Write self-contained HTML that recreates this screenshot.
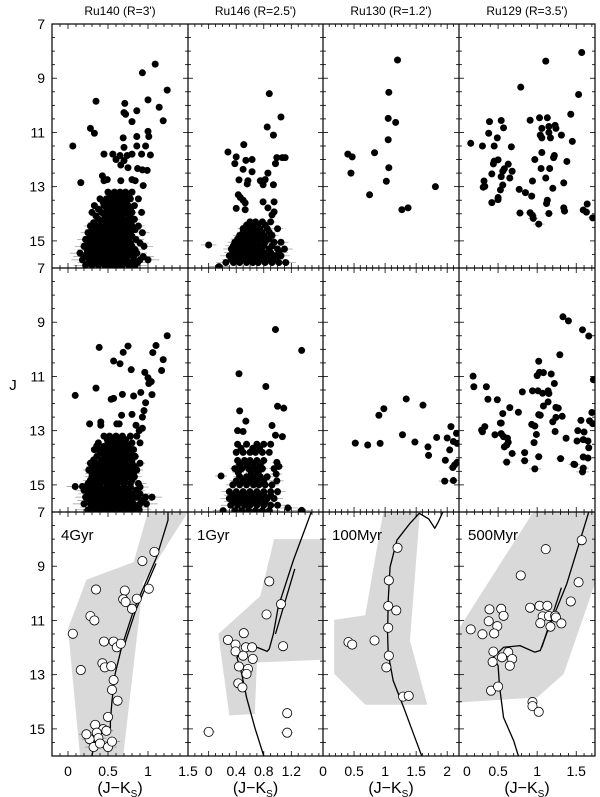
<!DOCTYPE html>
<html><head><meta charset="utf-8"><style>
body{margin:0;background:#fff;}
svg{display:block;font-family:"Liberation Sans",sans-serif;}
</style></head><body>
<svg id="chart" width="600" height="797" viewBox="0 0 600 797" xmlns="http://www.w3.org/2000/svg"></svg>
<script>
// ---------- data ----------
const panelTitles = ["Ru140 (R=3')", "Ru146 (R=2.5')", "Ru130 (R=1.2')", "Ru129 (R=3.5')"];
const ageLabels = ["4Gyr", "1Gyr", "100Myr", "500Myr"];
const yTickLabels = [7, 9, 11, 13, 15];
const xTicks0 = [0, 0.5, 1, 1.5];
const xTicks1 = [0, 0.4, 0.8, 1.2];
const xTicks2 = [0, 0.5, 1, 1.5, 2];
const xTicks3 = [0.5, 1, 1.5];

const ru140Top = [[1.09,8.48],[0.93,8.8],[1.24,9.44],[0.35,9.85],[0.71,9.93],[1.0,9.8],[1.14,10.07],[0.7,10.27],[0.72,10.33],[0.86,10.2],[0.8,10.6],[1.19,10.57],[0.28,10.85],[0.33,11.03],[1.0,10.96],[1.01,11.15],[0.06,11.5],[0.69,11.2],[0.7,11.55],[0.86,11.15],[0.86,11.5],[0.97,11.5],[0.45,11.8],[0.56,11.8],[0.65,11.85],[0.6,12.0],[0.7,12.04],[0.66,12.2],[0.74,11.85],[0.8,11.8],[0.92,11.8],[1.03,11.83],[0.75,12.3],[0.87,12.33],[0.93,12.38],[0.99,12.4],[0.16,12.85],[0.43,12.6],[0.49,12.74],[0.45,12.78],[0.8,12.74],[0.84,12.78],[0.94,12.96],[0.66,12.78]];
const ru140TopDense = [[13.2,[0.5,0.58,0.65,0.72,0.8]],[13.45,[0.4,0.48,0.55,0.62,0.7,0.78,0.88]],[13.7,[0.33,0.45,0.52,0.6,0.67,0.75,0.83]],[13.95,[0.3,0.42,0.5,0.57,0.64,0.72,0.8,0.92]],[14.2,[0.38,0.46,0.54,0.6,0.68,0.75,0.83]],[14.45,[0.28,0.35,0.43,0.5,0.58,0.65,0.72,0.8,0.88]],[14.7,[0.25,0.33,0.4,0.48,0.55,0.62,0.7,0.78,0.93]],[14.95,[0.22,0.3,0.38,0.45,0.52,0.6,0.67,0.75,0.85]],[15.2,[0.2,0.28,0.35,0.42,0.5,0.57,0.64,0.72,0.8,0.95]],[15.45,[0.15,0.24,0.32,0.4,0.47,0.55,0.62,0.7,0.78,0.86]],[15.7,[0.18,0.27,0.35,0.43,0.5,0.58,0.65,0.73,0.82,0.9,1.0]],[15.9,[0.22,0.3,0.38,0.46,0.54,0.61,0.68,0.76,0.84]]];
const ru140TopFill = [[13.33,[0.54,0.62,0.69,0.76]],[13.58,[0.44,0.52,0.59,0.66,0.73]],[13.83,[0.38,0.49,0.56,0.63,0.7,0.78]],[14.08,[0.35,0.46,0.53,0.61,0.68,0.77]],[14.33,[0.32,0.42,0.5,0.57,0.64,0.71,0.79]],[14.58,[0.3,0.39,0.47,0.54,0.61,0.68,0.76,0.84]],[14.83,[0.28,0.36,0.44,0.51,0.58,0.65,0.72,0.8]],[15.08,[0.26,0.34,0.41,0.48,0.56,0.63,0.7,0.78,0.9]],[15.33,[0.24,0.31,0.38,0.46,0.53,0.6,0.68,0.76,0.84]],[15.58,[0.2,0.28,0.36,0.44,0.51,0.59,0.66,0.74,0.82,0.94]],[15.8,[0.26,0.33,0.41,0.48,0.55,0.62,0.7,0.78,0.87]]];
const ru146Top = [[0.88,9.57],[1.05,10.43],[0.85,10.8],[0.94,11.1],[0.51,11.45],[0.28,11.72],[0.4,11.9],[0.38,12.15],[0.54,12.03],[0.63,12.0],[0.5,12.36],[0.63,12.45],[0.99,11.93],[1.07,11.93],[1.11,11.93],[0.97,12.15],[0.86,12.5],[0.44,12.75],[0.57,12.78],[0.56,12.9],[0.75,12.78],[0.82,12.74],[0.79,12.93],[0.94,12.93],[0.43,13.3],[0.46,13.4],[0.5,13.5],[0.53,13.6],[0.4,13.8],[0.53,13.85],[0.0,15.15],[0.79,13.56],[0.95,13.56],[0.86,13.78],[0.95,13.93],[0.92,14.04],[0.15,15.95]];
const ru146TopDense = [[14.3,[0.6,0.68,0.78,0.9]],[14.55,[0.5,0.58,0.66,0.74,0.85,1.0]],[14.8,[0.45,0.55,0.63,0.72,0.8,0.92]],[15.05,[0.38,0.47,0.56,0.64,0.72,0.82,0.95,1.05]],[15.3,[0.33,0.42,0.5,0.6,0.68,0.76,0.88,1.0,1.1]],[15.55,[0.3,0.4,0.48,0.56,0.65,0.74,0.84,0.95,1.05]],[15.8,[0.25,0.36,0.45,0.55,0.64,0.72,0.82,0.92,1.02,1.12]]];
const ru146TopFill = [[14.42,[0.55,0.63,0.71,0.82]],[14.68,[0.5,0.6,0.68,0.77,0.88]],[14.93,[0.42,0.51,0.6,0.68,0.77,0.87]],[15.18,[0.36,0.45,0.54,0.63,0.72,0.8,0.92]],[15.43,[0.35,0.45,0.53,0.62,0.71,0.8,0.9,1.02]],[15.68,[0.33,0.43,0.52,0.6,0.69,0.78,0.88,0.98]]];
const ru130Top = [[1.2,8.33],[1.06,9.52],[1.05,10.48],[1.17,10.63],[1.05,11.27],[0.4,11.8],[0.47,11.9],[0.83,11.75],[0.45,12.5],[1.06,12.3],[1.02,12.8],[1.81,13.0],[0.75,13.3],[1.27,13.85],[1.37,13.78]];
const ru129Top = [[1.57,8.05],[1.11,8.37],[0.79,9.33],[1.53,9.6],[1.43,10.33],[0.39,10.6],[0.54,10.56],[0.91,10.55],[1.03,10.46],[1.13,10.46],[0.57,10.83],[0.38,11.03],[0.49,11.2],[0.45,11.5],[0.15,11.4],[0.3,11.5],[0.67,11.53],[1.06,10.85],[1.15,10.78],[1.23,10.74],[1.24,10.85],[1.15,11.0],[1.04,11.1],[1.06,11.2],[1.17,11.2],[1.31,11.1],[1.45,11.33],[1.06,11.74],[1.22,11.85],[1.21,11.93],[0.97,12.0],[1.38,12.07],[0.45,12.06],[0.5,12.01],[0.44,12.16],[0.63,12.17],[0.58,12.34],[0.68,12.43],[0.56,12.43],[0.42,12.53],[0.54,12.63],[0.65,12.68],[0.32,12.79],[0.33,12.99],[0.31,13.02],[0.56,12.94],[0.53,13.12],[0.5,13.4],[0.5,13.48],[0.42,13.59],[1.05,12.33],[1.16,12.33],[1.11,12.68],[0.94,12.79],[1.2,13.06],[1.34,12.86],[0.77,13.1],[0.85,13.22],[0.93,13.35],[1.13,13.5],[1.12,13.62],[1.34,13.78],[1.35,13.9],[0.78,13.97],[0.91,13.96],[0.94,14.06],[0.95,14.17],[1.02,14.38],[1.15,13.99],[1.64,13.64],[1.59,13.86],[1.63,13.94],[1.71,14.15]];

const ru140Mid = [[1.24,9.5],[1.1,9.86],[1.06,10.12],[1.19,10.38],[1.17,10.78],[0.39,9.93],[0.75,9.88],[0.69,10.11],[0.57,10.43],[0.65,10.53],[0.79,10.75],[0.96,10.85],[1.0,11.05],[1.04,11.19],[1.01,11.26],[0.35,11.43],[0.09,11.7],[0.91,11.59],[1.05,11.67],[0.68,11.66],[0.82,11.72],[0.57,11.81],[0.54,11.84],[0.97,11.97],[0.95,12.26],[0.93,12.5],[0.67,12.43],[0.8,12.4],[0.27,12.75],[0.41,12.68],[0.41,12.8],[0.61,12.75],[0.64,12.75],[0.85,12.8],[0.93,12.91],[0.89,13.0],[0.09,15.06],[0.18,15.06],[0.36,13.56],[0.39,13.7]];
const ru140MidDense = [[13.2,[0.45,0.52,0.6,0.68,0.78,0.86]],[13.45,[0.38,0.5,0.57,0.64,0.72,0.8,0.9]],[13.7,[0.33,0.42,0.5,0.58,0.66,0.74,0.82]],[13.95,[0.36,0.46,0.54,0.61,0.68,0.76,0.84]],[14.2,[0.28,0.35,0.43,0.5,0.58,0.65,0.72,0.8,0.9]],[14.45,[0.26,0.33,0.4,0.48,0.56,0.63,0.7,0.78,0.86]],[14.7,[0.3,0.38,0.45,0.53,0.6,0.67,0.75,0.83]],[14.95,[0.25,0.33,0.4,0.48,0.55,0.62,0.7,0.78,0.88]],[15.2,[0.2,0.28,0.36,0.44,0.52,0.6,0.68,0.75,0.85]],[15.45,[0.22,0.3,0.38,0.46,0.54,0.62,0.7,0.78,0.86,0.97,1.05]],[15.7,[0.2,0.28,0.36,0.44,0.52,0.6,0.67,0.74,0.82,0.9,0.98]],[15.92,[0.25,0.33,0.41,0.49,0.57,0.65,0.73,0.81,0.89]]];
const ru140MidFill = [[13.33,[0.49,0.56,0.64,0.72]],[13.58,[0.45,0.53,0.61,0.69,0.77]],[13.83,[0.4,0.48,0.56,0.63,0.71,0.79]],[14.08,[0.32,0.42,0.5,0.57,0.65,0.72,0.8]],[14.33,[0.3,0.38,0.46,0.54,0.61,0.68,0.76,0.84]],[14.58,[0.3,0.36,0.44,0.52,0.59,0.66,0.74,0.82]],[14.83,[0.28,0.35,0.42,0.5,0.57,0.64,0.71,0.8]],[15.08,[0.24,0.32,0.4,0.48,0.55,0.62,0.7,0.78,0.9]],[15.33,[0.25,0.33,0.41,0.49,0.57,0.64,0.72,0.8,0.9]],[15.58,[0.25,0.33,0.41,0.49,0.57,0.64,0.72,0.8,0.92]],[15.82,[0.3,0.38,0.46,0.54,0.62,0.7,0.78,0.86]]];
const ru146Mid = [[0.97,9.27],[1.35,10.04],[1.35,15.94],[0.44,10.9],[0.83,11.37],[1.0,12.1],[1.09,12.17],[0.45,12.27],[0.54,12.65],[0.92,12.81],[0.42,13.0],[0.5,13.03],[0.97,13.17],[1.07,13.22],[0.18,14.67],[0.21,15.95],[1.15,15.85],[0.99,14.17],[1.02,14.32],[0.98,14.6],[0.99,14.85]];
const ru146MidDense = [[13.5,[0.42,0.55,0.7,0.8,0.9]],[13.8,[0.4,0.5,0.6,0.68,0.78,0.88]],[14.1,[0.42,0.52,0.6,0.7,0.8]],[14.4,[0.38,0.48,0.58,0.68,0.78,0.95]],[14.7,[0.45,0.55,0.65,0.75,0.85]],[15.0,[0.35,0.45,0.55,0.65,0.73,0.82,0.92]],[15.25,[0.3,0.4,0.5,0.6,0.7,0.8,0.9,1.0]],[15.5,[0.3,0.4,0.5,0.58,0.66,0.75,0.85,0.95]],[15.75,[0.32,0.42,0.52,0.6,0.7,0.8,0.9,1.0]],[15.95,[0.38,0.48,0.58,0.68,0.78,0.88]]];
const ru146MidFill = [[13.65,[0.47,0.64,0.74]],[14.25,[0.45,0.55,0.65,0.75]],[14.55,[0.43,0.62,0.72]],[14.85,[0.4,0.5,0.6,0.7,0.8]],[15.38,[0.35,0.45,0.55,0.63,0.72,0.8,0.9]],[15.62,[0.36,0.46,0.55,0.64,0.72,0.82]]];
const ru130Mid = [[1.34,11.83],[0.98,12.19],[0.9,12.43],[1.61,12.06],[1.28,13.15],[1.48,13.42],[0.52,13.46],[0.72,13.53],[0.92,13.47],[1.83,13.25],[1.69,13.6],[1.7,13.91],[2.06,12.85],[2.0,13.27],[2.15,13.1],[2.1,13.4],[2.16,13.47],[2.04,13.71],[1.97,14.09],[2.16,14.17],[2.12,14.26],[2.09,14.36],[1.96,14.86],[2.1,14.84]];
const ru129Mid = [[1.33,8.8],[1.4,8.95],[1.58,9.28],[1.66,9.51],[1.29,10.2],[1.72,11.12],[1.02,10.44],[1.0,10.97],[1.03,10.85],[1.08,10.86],[1.18,10.91],[1.22,11.26],[0.18,10.99],[0.19,11.38],[0.35,11.38],[0.81,11.57],[0.94,11.53],[1.01,11.53],[1.07,11.62],[1.14,11.53],[1.15,11.63],[0.37,11.84],[0.49,11.86],[1.14,11.94],[1.08,12.09],[1.24,12.14],[1.27,12.17],[0.65,12.15],[0.76,12.32],[0.56,12.37],[1.02,12.41],[1.04,12.43],[1.32,12.47],[1.24,12.51],[1.2,12.67],[1.7,12.33],[1.56,12.62],[1.67,12.64],[1.71,12.74],[0.54,12.72],[0.93,12.77],[0.97,12.83],[0.99,13.14],[1.23,13.03],[1.52,13.0],[1.6,13.05],[1.37,13.28],[1.51,13.38],[1.59,13.33],[1.65,13.38],[1.66,13.63],[1.59,13.97],[1.65,14.01],[1.48,14.25],[1.59,14.38],[1.58,14.52],[0.29,12.98],[0.33,12.85],[0.3,13.04],[0.46,13.15],[0.54,13.11],[0.57,13.22],[0.53,12.72],[0.62,13.28],[0.63,13.43],[0.58,13.6],[0.61,13.53],[0.68,13.84],[0.61,14.16],[0.84,13.81],[0.84,14.11],[1.02,13.96],[0.97,14.41],[0.96,13.44],[1.3,14.03],[1.47,14.24]];

const mem140 = [[1.08,8.47],[0.93,8.81],[0.35,9.86],[0.71,9.9],[1.01,9.83],[0.69,10.22],[0.72,10.32],[0.86,10.2],[0.8,10.57],[0.28,10.84],[0.33,11.0],[0.06,11.49],[0.45,11.78],[0.57,11.78],[0.61,11.99],[0.66,11.86],[0.16,12.83],[0.43,12.58],[0.46,12.73],[0.54,12.69],[0.57,13.2],[0.55,13.56],[0.62,13.96],[0.5,14.56],[0.34,14.85],[0.44,15.01],[0.36,15.14],[0.48,15.07],[0.38,15.34],[0.27,15.38],[0.32,15.67],[0.4,15.54],[0.5,15.67],[0.55,15.47],[0.23,15.2]];
const mem146 = [[0.88,9.56],[0.84,10.78],[1.05,10.4],[1.08,11.95],[0.51,11.47],[0.28,11.72],[0.39,11.89],[0.39,12.14],[0.54,11.99],[0.63,11.99],[0.5,12.3],[0.64,12.42],[0.44,12.7],[0.57,12.79],[0.55,12.97],[0.43,13.32],[0.49,13.47],[1.14,14.42],[1.14,15.14],[0.0,15.11]];
const mem130 = [[1.2,8.32],[1.06,9.52],[1.05,10.47],[1.18,10.63],[1.05,11.27],[0.41,11.8],[0.47,11.89],[0.83,11.74],[1.06,12.3],[1.02,12.73],[1.29,13.81],[1.38,13.78]];
const mem129 = [[1.57,8.04],[1.11,8.37],[0.79,9.34],[1.53,9.59],[1.43,10.3],[0.39,10.59],[0.54,10.57],[0.91,10.53],[1.03,10.46],[1.13,10.46],[0.57,10.83],[0.38,11.03],[0.49,11.21],[0.45,11.48],[0.15,11.33],[0.3,11.51],[1.07,10.85],[1.15,10.84],[1.23,10.83],[1.24,10.89],[1.04,11.1],[1.17,11.23],[1.31,11.11],[0.44,12.15],[0.43,12.53],[0.63,12.17],[0.68,12.42],[0.65,12.67],[0.55,12.36],[0.41,13.59],[0.5,13.44],[0.94,14.01],[0.94,14.16],[1.02,14.37]];
const region140 = [[1.0,7],[1.5,7],[0.94,9.6],[0.69,16],[0.15,16],[0.0,11.3],[0.23,9.5],[0.82,8.85]];
const region146 = [[0.95,8.0],[1.66,8.0],[1.66,12.45],[0.7,12.55],[0.67,14.45],[0.3,14.5],[0.14,11.5],[0.75,10.1]];
const region130 = [[0.97,7],[1.56,7],[1.4,11.74],[1.68,14.11],[0.68,14.11],[0.18,12.97],[0.18,10.98],[0.68,10.81]];
const region129 = [[0.01,11.25],[0.95,7],[1.74,7],[1.74,9.64],[1.34,12.97],[1.0,13.84],[0.01,14.02]];
const iso4Gyr = [[1.25,7],[1.25,7.3],[1.11,8.65],[0.82,10.63],[0.67,11.99],[0.59,12.96],[0.55,13.96],[0.53,14.7],[0.53,14.95],[0.36,15.07],[0.3,16]];
const iso4GyrB = [[1.1,8.9],[0.85,10.6],[0.7,11.95]];
const iso1Gyr = [[1.49,7],[1.23,8.78],[1.01,10.5],[0.94,11.49],[0.88,12.05],[0.85,12.14],[0.7,11.99],[0.58,11.99],[0.46,12.21],[0.41,12.36],[0.48,12.97],[0.55,13.84],[0.67,14.95],[0.8,16]];
const iso1GyrB = [[1.25,9.1],[0.97,11.5]];
const iso100Myr = [[1.93,7],[1.85,7.4],[1.8,7.6],[1.7,7.25],[1.55,7.05],[1.4,7.42],[1.19,8.04],[1.08,9.03],[1.05,10.26],[1.04,11.49],[1.05,12.23],[1.13,13.22],[1.3,14.21],[1.46,15.2],[1.59,16]];
const iso500Myr = [[1.66,7],[1.38,9.64],[1.12,11.49],[1.04,12.11],[0.97,12.17],[0.78,11.93],[0.57,11.99],[0.44,12.36],[0.5,12.67],[0.52,13.47],[0.57,14.58],[0.7,15.44],[0.76,16]];
const iso500MyrB = [[1.31,9.79],[1.06,11.99]];

// ---------- layout ----------
const cols = [{x0:52,x1:188,c0:-0.2,c1:1.5,ticks:xTicks0,minor:0.1},{x0:188,x1:323,c0:-0.3,c1:1.66,ticks:xTicks1,minor:0.1},{x0:323,x1:459,c0:0,c1:2.19,ticks:xTicks2,minor:0.1},{x0:459,x1:595,c0:0,c1:1.74,ticks:xTicks3,minor:0.1}];
const rowsTop = [24,268,512], rowH = 244, J0 = 7, J1 = 16;
const NS = "http://www.w3.org/2000/svg";
const svg = document.getElementById('chart');
function X(ci,c){const k=cols[ci];return k.x0+(c-k.c0)/(k.c1-k.c0)*(k.x1-k.x0);}
function Y(ri,J){return rowsTop[ri]+(J-J0)/(J1-J0)*rowH;}
function mk(tag,attrs,parent){const e=document.createElementNS(NS,tag);for(const a in attrs)e.setAttribute(a,attrs[a]);(parent||svg).appendChild(e);return e;}
const defs = mk('defs',{});
function errW(J){return J>13.3?0.02+0.05*(J-13.3):0;}

function panelGroup(ci,ri,name){
  const cp=mk('clipPath',{id:'cp'+ci+ri},defs);
  mk('rect',{x:cols[ci].x0,y:rowsTop[ri],width:cols[ci].x1-cols[ci].x0,height:rowH},cp);
  const g=mk('g',{'clip-path':'url(#cp'+ci+ri+')'});
  
  
  return g;
}
function expand(list,dense,fill){const out=list.slice();[dense,fill].forEach(d=>{if(d)d.forEach(r=>r[1].forEach(c=>out.push([c,r[0]])));});return out;}
function drawFilled(ci,ri,pts,name){
  const g=panelGroup(ci,ri,name);
  pts.forEach(p=>{const w=errW(p[1]);if(w>0){const l=mk('line',{x1:X(ci,p[0]-w),x2:X(ci,p[0]+w),y1:Y(ri,p[1]),y2:Y(ri,p[1]),stroke:'#999','stroke-width':0.7},g);
    
    }});
  pts.forEach(p=>{const c=mk('circle',{cx:X(ci,p[0]),cy:Y(ri,p[1]),r:3.5,fill:'#000'},g);
    
    });
}
function drawBottom(ci,region,isos,mem,name){
  const ri=2,g=panelGroup(ci,ri,name);
  const poly=mk('polygon',{points:region.map(p=>X(ci,p[0])+','+Y(ri,p[1])).join(' '),fill:'#d9d9d9'},g);
  
  
  isos.forEach(iso=>{const pl=mk('polyline',{points:iso.map(p=>X(ci,p[0])+','+Y(ri,p[1])).join(' '),fill:'none',stroke:'#000','stroke-width':1.3,'stroke-linejoin':'round'},g);
    
    });
  mem.forEach(p=>{const w=p[1]>13.8?errW(p[1])*0.8:0;if(w>0){const l=mk('line',{x1:X(ci,p[0]-w),x2:X(ci,p[0]+w),y1:Y(ri,p[1]),y2:Y(ri,p[1]),stroke:'#888','stroke-width':0.7},g);
    
    }});
  mem.forEach(p=>{const c=mk('circle',{cx:X(ci,p[0]),cy:Y(ri,p[1]),r:4.6,fill:'#fff',stroke:'#000','stroke-width':0.8},g);
    
    });
}

drawFilled(0,0,expand(ru140Top,ru140TopDense,ru140TopFill),'ru140-field-panel');
drawFilled(1,0,expand(ru146Top,ru146TopDense,ru146TopFill),'ru146-field-panel');
drawFilled(2,0,ru130Top,'ru130-field-panel');
drawFilled(3,0,ru129Top,'ru129-field-panel');
drawFilled(0,1,expand(ru140Mid,ru140MidDense,ru140MidFill),'ru140-decontam-panel');
drawFilled(1,1,expand(ru146Mid,ru146MidDense,ru146MidFill),'ru146-decontam-panel');
drawFilled(2,1,ru130Mid,'ru130-decontam-panel');
drawFilled(3,1,ru129Mid,'ru129-decontam-panel');
drawBottom(0,region140,[iso4Gyr,iso4GyrB],mem140,'ru140-isochrone-panel');
drawBottom(1,region146,[iso1Gyr,iso1GyrB],mem146,'ru146-isochrone-panel');
drawBottom(2,region130,[iso100Myr],mem130,'ru130-isochrone-panel');
drawBottom(3,region129,[iso500Myr,iso500MyrB],mem129,'ru129-isochrone-panel');

const tg=mk('g',{stroke:'#000','stroke-width':0.8});


for(let ci=0;ci<4;ci++)for(let ri=0;ri<3;ri++){
  const k=cols[ci],top=rowsTop[ri],bot=top+rowH;
  for(let J=7;J<=16.001;J+=0.5){const y=Y(ri,J),L=(Math.abs(J%2-1)<0.01)?5:3;
    mk('line',{x1:k.x0,x2:k.x0+L,y1:y,y2:y},tg);mk('line',{x1:k.x1,x2:k.x1-L,y1:y,y2:y},tg);}
  const start=Math.ceil(k.c0/k.minor)*k.minor;
  for(let c=start;c<=k.c1+1e-6;c+=k.minor){const x=X(ci,c),isM=k.ticks.some(t=>Math.abs(t-c)<1e-6)||Math.abs(c)<1e-6,L=isM?5:3;
    mk('line',{x1:x,x2:x,y1:top,y2:top+L},tg);mk('line',{x1:x,x2:x,y1:bot,y2:bot-L},tg);}
}
const fg=mk('g',{stroke:'#000','stroke-width':1.2,fill:'none'});


mk('rect',{x:52,y:24,width:543,height:732},fg);
[188,323,459].forEach(x=>mk('line',{x1:x,x2:x,y1:24,y2:756},fg));
[268,512].forEach(y=>mk('line',{x1:52,x2:595,y1:y,y2:y},fg));

function txt(s,x,y,attrs,name){const t=mk('text',Object.assign({x:x,y:y,fill:'#000'},attrs));t.textContent=s;
  
  return t;}
panelTitles.forEach((s,i)=>txt(s,(cols[i].x0+cols[i].x1)/2,15,{'font-size':12,'text-anchor':'middle'},'panel-title'));
for(let ri=0;ri<3;ri++)yTickLabels.forEach(v=>txt(String(v),45,Y(ri,v)+5,{'font-size':14,'text-anchor':'end'},'y-tick-label'));
txt('J',13,390,{'font-size':15,'text-anchor':'middle'},'y-axis-title');
ageLabels.forEach((s,i)=>txt(s,cols[i].x0+9,540,{'font-size':15},'age-label'));
const allX=[xTicks0,xTicks1,xTicks2,xTicks3];
allX.forEach((arr,ci)=>arr.forEach(v=>{let x=X(ci,v);txt(String(v),x,776,{'font-size':14,'text-anchor':'middle'},'x-tick-label');}));
txt('0',X(3,0)+4,776,{'font-size':14,'text-anchor':'start'},'x-tick-label');
for(let ci=0;ci<4;ci++){
  const t=mk('text',{x:(cols[ci].x0+cols[ci].x1)/2,y:793,'font-size':16,'text-anchor':'middle',fill:'#000'});
  
  
  t.innerHTML='(J\u2212K<tspan font-size="10" dy="4">S</tspan><tspan dy="-4">)</tspan>';
}
</script>
</body></html>
